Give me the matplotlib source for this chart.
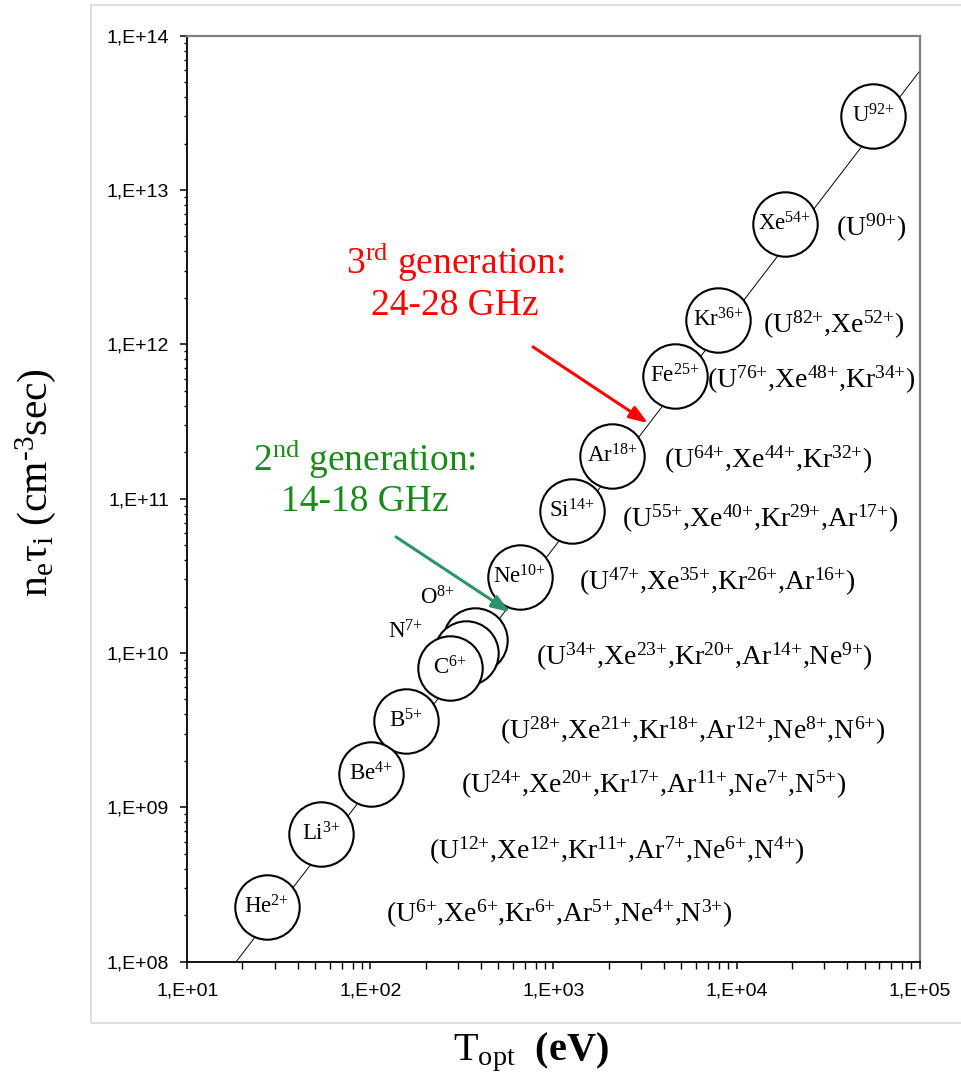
import matplotlib
matplotlib.use("Agg")
import matplotlib.pyplot as plt
from matplotlib.patches import Rectangle
from matplotlib.ticker import LogLocator, FuncFormatter
import numpy as np

plt.rcParams['font.family'] = ['Liberation Serif', 'DejaVu Serif']
plt.rcParams['mathtext.fontset'] = 'custom'
plt.rcParams['mathtext.rm'] = 'Liberation Serif'
plt.rcParams['mathtext.it'] = 'Liberation Serif:italic'
plt.rcParams['mathtext.bf'] = 'Liberation Serif:bold'

# scaling line n*tau ~ T^1.5
line_T = [18.5, 1e5]
line_n = [1e8, 5.9e13]

# fully stripped ions (circles)
ions = ["He", "Li", "Be", "B", "C", "N", "O", "Ne", "Si", "Ar", "Fe", "Kr", "Xe", "U"]
charges = ["2+", "3+", "4+", "5+", "6+", "7+", "8+", "10+", "14+", "18+", "25+", "36+", "54+", "92+"]
ion_T = [27.2, 53.7, 100.7, 156, 272, 333, 372, 656, 1262, 2089, 4613, 7906, 18370, 55600]
ion_n = [2.26e8, 6.7e8, 1.64e9, 3.63e9, 8.0e9, 1.0e10, 1.21e10, 3.11e10, 8.32e10, 1.89e11,
         6.24e11, 1.44e12, 6.03e12, 3.02e13]
outside_label = ["N", "O"]
outside_T = [154.5, 231]
outside_n = [1.37e10, 2.27e10]

# equivalent charge states of heavier ions
groups = [
    [("U", "90+")],
    [("U", "82+"), ("Xe", "52+")],
    [("U", "76+"), ("Xe", "48+"), ("Kr", "34+")],
    [("U", "64+"), ("Xe", "44+"), ("Kr", "32+")],
    [("U", "55+"), ("Xe", "40+"), ("Kr", "29+"), ("Ar", "17+")],
    [("U", "47+"), ("Xe", "35+"), ("Kr", "26+"), ("Ar", "16+")],
    [("U", "34+"), ("Xe", "23+"), ("Kr", "20+"), ("Ar", "14+"), ("Ne", "9+")],
    [("U", "28+"), ("Xe", "21+"), ("Kr", "18+"), ("Ar", "12+"), ("Ne", "8+"), ("N", "6+")],
    [("U", "24+"), ("Xe", "20+"), ("Kr", "17+"), ("Ar", "11+"), ("Ne", "7+"), ("N", "5+")],
    [("U", "12+"), ("Xe", "12+"), ("Kr", "11+"), ("Ar", "7+"), ("Ne", "6+"), ("N", "4+")],
    [("U", "6+"), ("Xe", "6+"), ("Kr", "6+"), ("Ar", "5+"), ("Ne", "4+"), ("N", "3+")],
]
group_T = [34900, 13930, 6890, 4010, 2366, 1377, 802, 511, 313, 209, 121.6]
group_n = [5.67e12, 1.33e12, 5.88e11, 1.78e11, 7.39e10, 2.88e10, 9.42e9, 3.13e9, 1.40e9, 5.21e8, 2.04e8]

gen_text = ["3$^{\\mathrm{rd}}$ generation:\n24-28 GHz", "2$^{\\mathrm{nd}}$ generation:\n14-18 GHz"]
gen_color = ["#ff0000", "#1a8a1a"]
arrow_color = ["#ff0000", "#2e9467"]
gen_T = [290, 93.3]
gen_n = [2.54e12, 1.36e11]
arrow_from_T = [773, 138]
arrow_from_n = [9.62e11, 5.65e10]
arrow_to_T = [3281, 578]
arrow_to_n = [3.09e11, 1.84e10]


def ion_label(name, q):
    # braces around '+' keep mathtext from adding operator spacing
    return name + "$^{\\mathrm{" + q.replace("+", "{+}") + "}}$"


fig = plt.figure(figsize=(9.61, 10.81), dpi=100)
ax = fig.add_axes([0.1949, 0.1104, 0.957 - 0.1949, 0.967 - 0.1104])

# outer light frame
fig.patches.append(Rectangle((91 / 961, 1 - 1023 / 1081), 1.0, (1023 - 5) / 1081,
                             transform=fig.transFigure, fill=False,
                             edgecolor="#d9d9d9", linewidth=1.2))

ax.set_xscale("log")
ax.set_yscale("log")
ax.set_xlim(1e1, 1e5)
ax.set_ylim(1e8, 1e14)

ax.plot(line_T, line_n, color="black", linewidth=0.7, zorder=1)

# circles: reversed so that C sits on top of N and O
ax.scatter(ion_T[::-1], ion_n[::-1], s=2150, facecolor="white", edgecolor="black",
           linewidth=1.5, zorder=2)
for name, q, t, n in zip(ions, charges, ion_T, ion_n):
    if name in outside_label:
        continue
    ax.text(t, n, ion_label(name, q), fontsize=16.5, ha="center", va="center", zorder=3)
for name, t, n in zip(outside_label, outside_T, outside_n):
    q = charges[ions.index(name)]
    ax.text(t, n, ion_label(name, q), fontsize=16.5, ha="center", va="center", zorder=3)

for grp, t, n in zip(groups, group_T, group_n):
    s = "(" + ",".join(ion_label(a, b) for a, b in grp) + ")"
    ax.text(t, n, s, fontsize=20, ha="left", va="center", zorder=3)

for i in range(2):
    ax.text(gen_T[i], gen_n[i], gen_text[i], fontsize=27, color=gen_color[i],
            ha="center", va="center", linespacing=1.15)
    ax.annotate("", xy=(arrow_to_T[i], arrow_to_n[i]),
                xytext=(arrow_from_T[i], arrow_from_n[i]),
                arrowprops=dict(arrowstyle="-|>,head_length=1.1,head_width=0.4",
                                color=arrow_color[i], lw=2.2, shrinkA=0, shrinkB=0))

# axes styling
for side in ["top", "right"]:
    ax.spines[side].set_color("#808080")
    ax.spines[side].set_linewidth(1.6)
for side in ["left", "bottom"]:
    ax.spines[side].set_color("black")
    ax.spines[side].set_linewidth(1.3)

ax.xaxis.set_major_locator(LogLocator(base=10, numticks=10))
ax.yaxis.set_major_locator(LogLocator(base=10, numticks=10))
ax.xaxis.set_minor_locator(LogLocator(base=10, subs=np.arange(2, 10), numticks=20))
ax.yaxis.set_minor_locator(LogLocator(base=10, subs=np.arange(2, 10), numticks=20))
fmt = FuncFormatter(lambda v, pos: "1,E+%02d" % int(round(np.log10(v))))
ax.xaxis.set_major_formatter(fmt)
ax.yaxis.set_major_formatter(fmt)
ax.tick_params(which="major", direction="out", length=5, width=1.1, labelsize=14, color="black")
ax.tick_params(axis="x", which="major", pad=10)
ax.tick_params(axis="y", which="major", pad=8)
ax.tick_params(axis="x", which="minor", direction="out", length=5, width=1.0)
ax.tick_params(axis="y", which="minor", direction="out", length=2.5, width=1.0)
for lab in ax.get_xticklabels() + ax.get_yticklabels():
    lab.set_fontfamily("Liberation Sans")

fig.text(531 / 961, 1 - 1052 / 1081, "T$_{\\mathrm{opt}}$  $\\mathbf{(eV)}$",
         fontsize=29, ha="center", va="center")
fig.text(36 / 961, 1 - 483 / 1081, "n$_{\\mathrm{e}}$τ$_{\\mathrm{i}}$ (cm$^{\\text{-3}}$sec)",
         fontsize=30, ha="center", va="center", rotation=90)

fig.savefig("out.png", dpi=100)
